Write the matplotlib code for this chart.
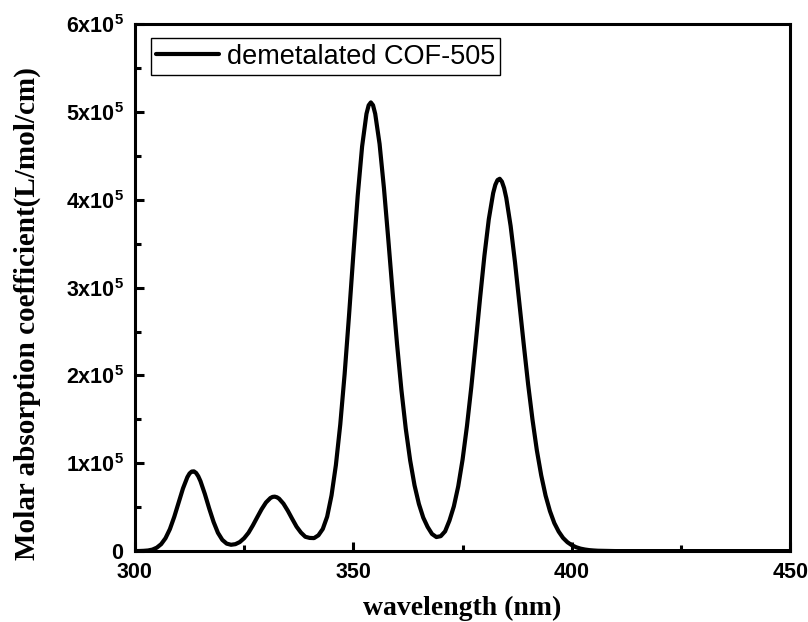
import matplotlib
matplotlib.use('Agg')
import matplotlib.pyplot as plt
from matplotlib.ticker import MultipleLocator, FuncFormatter

plt.rcParams['font.family'] = ['Liberation Sans', 'DejaVu Sans']
plt.rcParams['mathtext.fontset'] = 'custom'
plt.rcParams['mathtext.rm'] = 'Liberation Sans'
plt.rcParams['mathtext.bf'] = 'Liberation Sans:bold'

# wavelength in nm, molar absorption in units of 1e5 L/mol/cm
grid_wl = list(range(300, 411)) + [450]
grid_abs = [
    0.000, 0.001, 0.003, 0.007, 0.017, 0.039, 0.079, 0.147, 0.250, 0.390,   # 300-309
    0.552, 0.714, 0.842, 0.906, 0.890, 0.797, 0.651, 0.485, 0.332, 0.208,   # 310-319
    0.128, 0.085, 0.072, 0.079, 0.103, 0.147, 0.209, 0.293, 0.386, 0.477,   # 320-329
    0.554, 0.604, 0.620, 0.597, 0.540, 0.459, 0.367, 0.278, 0.211, 0.163,   # 330-339
    0.150, 0.148, 0.180, 0.252, 0.392, 0.634, 0.980, 1.441, 2.016, 2.679,   # 340-349
    3.380, 4.050, 4.608, 4.980, 5.110, 4.980, 4.637, 4.134, 3.547, 2.936,   # 350-359
    2.357, 1.834, 1.392, 1.033, 0.749, 0.537, 0.381, 0.275, 0.195, 0.160,   # 360-369
    0.170, 0.225, 0.348, 0.509, 0.737, 1.042, 1.423, 1.869, 2.366, 2.879,   # 370-379
    3.365, 3.779, 4.077, 4.226, 4.208, 4.023, 3.702, 3.289, 2.823, 2.354,   # 380-389
    1.901, 1.498, 1.148, 0.863, 0.632, 0.455, 0.319, 0.222, 0.150, 0.101,   # 390-399
    0.067, 0.044, 0.028, 0.018, 0.011, 0.007, 0.004, 0.003, 0.002, 0.001,   # 400-409
    0.000, 0.000,                                                          # 410, 450
]
# extra half-nm readings around the band maxima
peak_wl = [312.5, 313.5, 314.5, 331.5, 332.5, 353.5, 354.5, 382.5, 383.5, 384.5]
peak_abs = [0.884, 0.908, 0.852, 0.617, 0.613, 5.077, 5.078, 4.172, 4.240, 4.135]
series_label = 'demetalated COF-505'

pts = sorted(zip(grid_wl + peak_wl, grid_abs + peak_abs))
wavelength = [p[0] for p in pts]
absorption = [p[1] * 1e5 for p in pts]

fig = plt.figure(figsize=(8.08, 6.22), dpi=100)
ax = fig.add_axes([0.167, 0.114, 0.811, 0.847])

ax.plot(wavelength, absorption, color='black', lw=3.0,
        solid_joinstyle='round', solid_capstyle='round', label=series_label)

ax.set_xlim(300, 450)
ax.set_ylim(0, 6e5)
ax.xaxis.set_major_locator(MultipleLocator(50))
ax.xaxis.set_minor_locator(MultipleLocator(25))
ax.yaxis.set_major_locator(MultipleLocator(1e5))
ax.yaxis.set_minor_locator(MultipleLocator(0.5e5))

def ylab(v, pos):
    n = int(round(v / 1e5))
    if n == 0:
        return r'$\mathbf{0}$'
    return r'$\mathbf{%dx10^{5}}$' % n

ax.yaxis.set_major_formatter(FuncFormatter(ylab))

ax.tick_params(which='both', direction='in', top=False, right=False, width=2.2)
ax.tick_params(which='major', length=6.5, labelsize=15.5)
ax.tick_params(which='minor', length=4.3)
ax.tick_params(axis='x', pad=8)
ax.tick_params(axis='y', pad=8)
for lbl in ax.get_xticklabels() + ax.get_yticklabels():
    lbl.set_fontweight('bold')

for s in ax.spines.values():
    s.set_linewidth(2.2)

ax.set_xlabel('wavelength (nm)', fontfamily='Liberation Serif', fontweight='bold', fontsize=20)
ax.xaxis.set_label_coords(0.5, -0.085)
ax.set_ylabel('Molar absorption coefficient(L/mol/cm)', fontfamily='Liberation Serif',
              fontweight='bold', fontsize=21)
ax.yaxis.set_label_coords(-0.143, 0.45)

leg = ax.legend(loc='upper left', bbox_to_anchor=(0.0244, 0.973), borderaxespad=0,
                frameon=True, fancybox=False, edgecolor='black', framealpha=1,
                fontsize=19.5, handlelength=2.3, handletextpad=0.3, borderpad=0.2)
leg.get_frame().set_linewidth(1.0)

fig.savefig('out.png', dpi=100)
